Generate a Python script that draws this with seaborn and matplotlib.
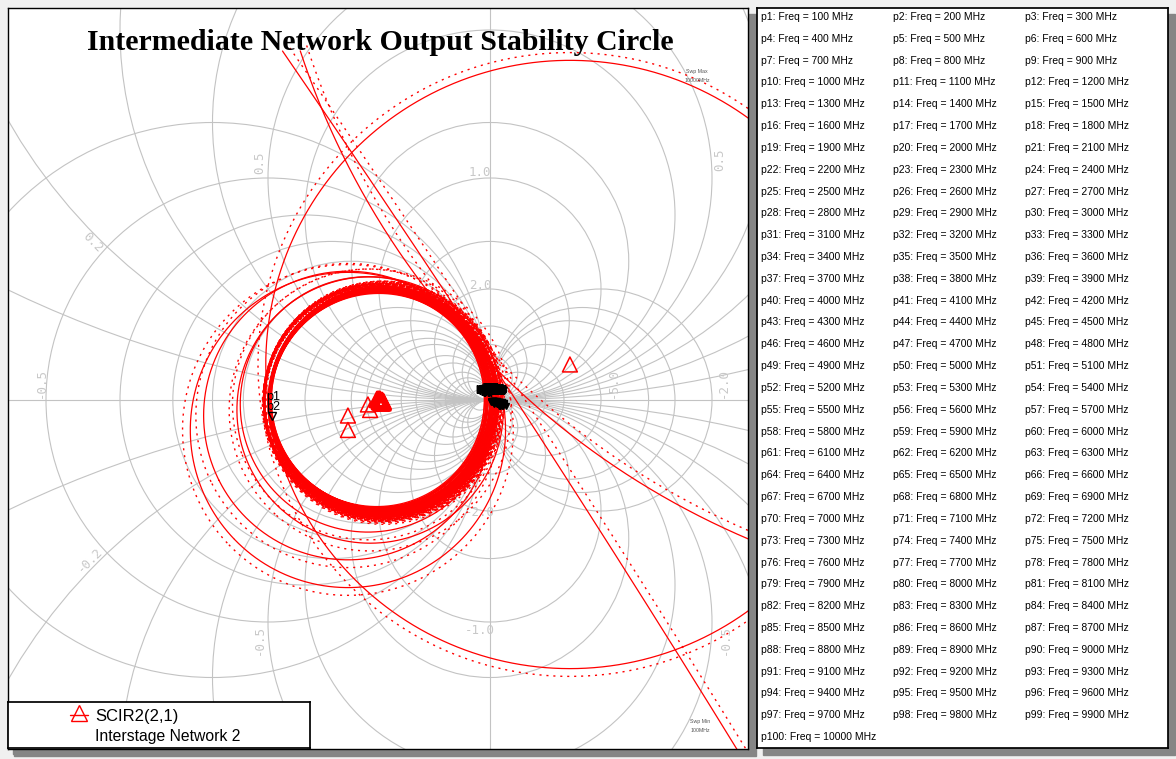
import numpy as np
import pandas as pd
import seaborn as sns
import matplotlib.pyplot as plt
from matplotlib.patches import Circle, Rectangle

W, H = 1176, 759

# marker list: p1 .. p100
freqs_mhz = list(range(100, 10001, 100))

# main band of output stability circles, Gamma plane (centre re, centre im, radius)
ring_cx = [0.01, 0.02, 0.00, 0.03, 0.01, -0.01, 0.02, 0.04, 0.00, 0.02,
           0.03, 0.01, -0.02, 0.02, 0.00, 0.03, 0.01, 0.04, 0.02, -0.01,
           0.01, 0.03, 0.02, 0.00, 0.04, 0.01, 0.02, -0.01, 0.03, 0.01,
           0.00, 0.02, 0.04, 0.01, 0.03, -0.02, 0.02, 0.01, 0.03, 0.00,
           0.02, 0.04, 0.01, 0.02, -0.01, 0.03, 0.00, 0.02, 0.01, 0.03,
           0.02, 0.00, 0.04, 0.01, 0.02, 0.03, -0.01, 0.01, 0.02, 0.03]
ring_cy = [-0.01, 0.00, -0.02, -0.01, 0.01, 0.00, -0.03, -0.01, 0.00, -0.02,
           -0.01, 0.01, 0.00, -0.02, -0.01, -0.03, 0.00, -0.02, -0.01, 0.01,
           -0.02, -0.01, 0.00, 0.01, -0.03, -0.01, -0.02, 0.00, -0.01, -0.02,
           0.01, -0.01, -0.02, 0.00, -0.03, 0.01, -0.01, -0.02, 0.00, -0.01,
           -0.02, -0.01, 0.00, -0.03, 0.01, -0.02, 0.00, -0.01, -0.02, -0.01,
           0.00, 0.01, -0.02, -0.01, -0.03, 0.00, 0.01, -0.01, -0.02, -0.01]
ring_r = [0.99, 1.00, 0.98, 1.02, 0.99, 0.98, 1.01, 1.03, 0.97, 1.00,
          1.02, 0.99, 0.97, 1.01, 0.98, 1.03, 1.00, 1.02, 1.01, 0.98,
          0.99, 1.02, 1.00, 0.98, 1.04, 0.99, 1.01, 0.97, 1.02, 1.00,
          0.98, 1.01, 1.03, 0.99, 1.02, 0.97, 1.00, 0.99, 1.02, 0.98,
          1.01, 1.03, 0.99, 1.00, 0.98, 1.02, 0.97, 1.01, 1.00, 1.02,
          1.00, 0.98, 1.03, 0.99, 1.01, 1.02, 0.98, 0.99, 1.01, 1.02]

# the wider circles (band edges, big circle, near-straight ones)
wide_cx = [-0.28, -0.28, -0.10, -0.08, 1.72, -124.5, 6.16]
wide_cy = [-0.27, -0.14, -0.04, -0.09, 0.32, -81.8, 5.40]
wide_r = [1.42, 1.30, 1.15, 1.20, 2.74, 150.0, 7.23]
wide_side = [1, 1, 1, 1, 1, 1, -1]   # which side the dotted trace sits

# marker label spots for p1, p2
p12_re = [-0.995, -0.995]
p12_im = [0.03, -0.06]

# Smith chart grid
r_grid = [0, 0.2, 0.4, 0.6, 0.8, 1, 1.5, 2, 3, 4, 5, 10,
          -0.1, -0.2, -0.3, -0.4, -0.5, -0.6,
          -2, -2.2, -2.4, -3, -4, -5, -10]
x_grid = [0.1, 0.2, 0.3, 0.4, 0.5, 0.6, 0.8, 1, 1.4, 2, 3, 4, 5]
grid_text = ["1.0", "2.0", "-1.0", "-2.0", "0.5", "0.5", "-0.5", "-0.5",
             "0.2", "-0.2", "-0.5", "-5.0", "-2.0"]

# pixel layout of the chart
CX0, CY0, S = 379, 400, 111
def g(px, py):
    return (px - CX0) / S, (CY0 - py) / S

grid_px = [(480, 172, 0), (480, 285, 0), (480, 630, 0), (480, 513, 0),
           (260, 163, 90), (720, 160, 90), (259, 640, 90), (725, 640, 90),
           (93, 242, -45), (90, 560, 45), (41, 383, 90), (613, 383, 90), (723, 383, 90)]

sns.set_theme(style="white")
plt.rcParams['font.family'] = ['Liberation Sans', 'DejaVu Sans']
plt.rcParams['text.color'] = 'black'

fig = plt.figure(figsize=(W / 100, H / 100), dpi=100, facecolor="#f0f0f0")

def fbox(x0, y0, x1, y1):
    return [x0 / W, 1 - y1 / H, (x1 - x0) / W, (y1 - y0) / H]

# drop shadows
for x0, y0, x1, y1 in [(14, 14, 756, 756), (763, 14, 1175, 755), (13, 707, 316, 754)]:
    fig.patches.append(Rectangle((x0 / W, 1 - y1 / H), (x1 - x0) / W, (y1 - y0) / H,
                                 transform=fig.transFigure, color="#858585", zorder=-5))

ax = fig.add_axes(fbox(8, 8, 748, 749))
ax.set_facecolor("white")
ax.set_xlim(*[g(8, 0)[0], g(748, 0)[0]])
ax.set_ylim(g(0, 749)[1], g(0, 8)[1])

gc = "#c3c3c3"
for r in r_grid:
    ax.add_patch(Circle((r / (1 + r), 0), 1 / abs(1 + r), fill=False, ec=gc, lw=0.8, zorder=1))
for x in x_grid:
    for sgn in (1, -1):
        ax.add_patch(Circle((1, sgn / x), 1 / x, fill=False, ec=gc, lw=0.8, zorder=1))
ax.axhline(0, color=gc, lw=0.8, zorder=1)
ax.axvline(1, color=gc, lw=0.8, zorder=1)

for t, (px, py, rot) in zip(grid_text, grid_px):
    gx, gy = g(px, py)
    ax.text(gx, gy, t, rotation=rot, ha="center", va="center", fontsize=9,
            family="DejaVu Sans Mono", color="#c8c8c8", zorder=1.5)


def arc(cx, cy, r, n=1400):
    phi0 = np.arctan2(-cy, -cx)
    half = np.pi if r < 3 else min(np.pi, 8.0 / r)
    t = np.linspace(phi0 - half, phi0 + half, n)
    return cx + r * np.cos(t), cy + r * np.sin(t)

top_im = g(0, 50)[1]   # traces run out under the title

solid, dotted = [], []
k = 0
for cx, cy, r in zip(ring_cx, ring_cy, ring_r):
    xs, ys = arc(cx, cy, r, 600)
    solid.append(pd.DataFrame({"Re": xs, "Im": ys, "trace": k}))
    xs, ys = arc(cx, cy, r + 0.05, 600)
    dotted.append(pd.DataFrame({"Re": xs, "Im": ys, "trace": k}))
    k += 1
for cx, cy, r, sd in zip(wide_cx, wide_cy, wide_r, wide_side):
    xs, ys = arc(cx, cy, r)
    d = pd.DataFrame({"Re": xs, "Im": ys, "trace": k})
    solid.append(d[d["Im"] <= top_im])
    xs, ys = arc(cx, cy, r + 0.07 * sd)
    d = pd.DataFrame({"Re": xs, "Im": ys, "trace": k})
    dotted.append(d[d["Im"] <= top_im + 0.05])
    k += 1
df_solid = pd.concat(solid, ignore_index=True)
df_dot = pd.concat(dotted, ignore_index=True)

sns.lineplot(data=df_solid, x="Re", y="Im", units="trace", estimator=None, sort=False,
             color="#ff0000", lw=0.9, legend=False, ax=ax, zorder=2)
sns.lineplot(data=df_dot, x="Re", y="Im", units="trace", estimator=None, sort=False,
             color="#ff0000", lw=1.0, linestyle=(0, (1.5, 3.5)), legend=False, ax=ax, zorder=2)

# circle centres
cen = pd.DataFrame({"Re": ring_cx + wide_cx, "Im": ring_cy + wide_cy})
sns.scatterplot(data=cen, x="Re", y="Im", marker="^", s=115, color="red",
                facecolors="none", edgecolor="red", linewidth=1.1, legend=False, ax=ax, zorder=3)

# marker labels
for i, (mx, my) in enumerate(zip(p12_re, p12_im)):
    ax.text(mx + 0.04, my, f"p{i + 1}", fontsize=9, color="black", ha="center", va="center", zorder=5)
ax.plot([p12_re[0] + 0.03], [p12_im[1] - 0.08], marker="v", ms=6, mfc="none", mec="black", zorder=5)
for i, (cx, cy, r) in enumerate(zip(ring_cx, ring_cy, ring_r)):
    ax.text(cx + r, cy + 0.1, f"p{i + 3}", fontsize=8, fontweight="bold", color="black",
            ha="center", va="center", zorder=5)
    ax.plot([cx + r + 0.06], [cy - 0.02], marker="v", ms=5, mfc="black", mec="black", zorder=5)

ax.text(*g(697, 71), "Swp Max", fontsize=3.8, color="#555555", ha="center", va="center")
ax.text(*g(697, 80), "10000MHz", fontsize=3.8, color="#555555", ha="center", va="center")
ax.text(*g(700, 721), "Swp Min", fontsize=3.8, color="#555555", ha="center", va="center")
ax.text(*g(700, 730), "100MHz", fontsize=3.8, color="#555555", ha="center", va="center")

ax.set_xlabel("")
ax.set_ylabel("")
ax.set_xticks([])
ax.set_yticks([])
for sp in ax.spines.values():
    sp.set_color("black")
    sp.set_linewidth(1.0)

fig.text(380 / W, 1 - 42 / H, "Intermediate Network Output Stability Circle",
         family="Liberation Serif", fontweight="bold", fontsize=21.5, ha="center", va="center",
         color="black", zorder=6)

# legend box
lax = fig.add_axes(fbox(8, 702, 310, 748))
lax.set_xlim(0, 302)
lax.set_ylim(46, 0)
lax.set_xticks([])
lax.set_yticks([])
lax.set_facecolor("white")
for sp in lax.spines.values():
    sp.set_color("black")
lax.plot([62, 80], [13, 13], color="red", lw=1.0)
lax.plot([71], [11], marker="^", ms=11, mfc="none", mec="red", mew=1.0)
lax.text(87, 15, "SCIR2(2,1)", fontsize=12, va="center", ha="left", color="black")
lax.text(87, 34, "Interstage Network 2", fontsize=11.3, va="center", ha="left", color="black")

# marker list panel
rax = fig.add_axes(fbox(757, 8, 1168, 748))
rax.set_xticks([])
rax.set_yticks([])
rax.set_facecolor("white")
for sp in rax.spines.values():
    sp.set_color("black")
for i, f in enumerate(freqs_mhz):
    col, row = i % 3, i // 3
    fig.text((761 + 132 * col) / W, 1 - (17 + 21.82 * row) / H, f"p{i + 1}: Freq = {f} MHz",
             fontsize=7.5, ha="left", va="center", color="black")

fig.savefig("out.png", dpi=100, facecolor=fig.get_facecolor())
